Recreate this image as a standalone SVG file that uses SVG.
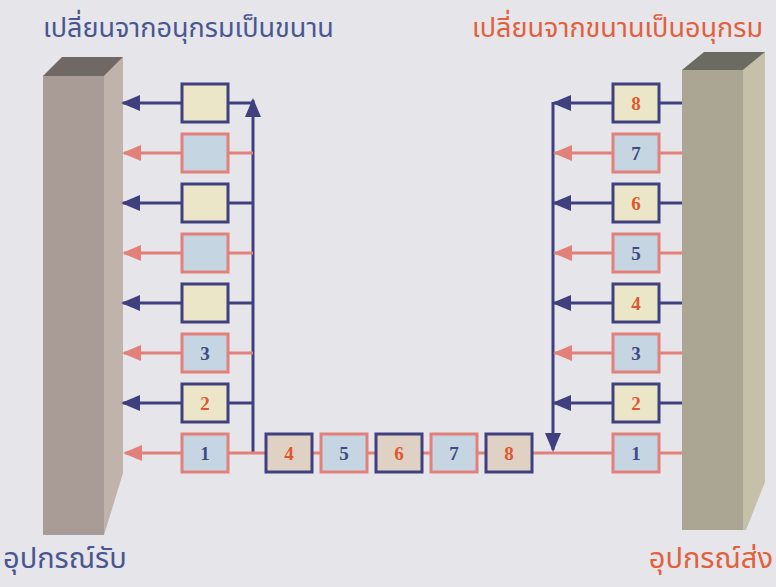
<svg xmlns="http://www.w3.org/2000/svg" width="776" height="587" viewBox="0 0 776 587">
<defs>
<marker id="aN" markerUnits="userSpaceOnUse" markerWidth="20" markerHeight="16" refX="17" refY="8" orient="auto"><path d="M0,0 L19,8 L0,16 z" fill="#40407f"/></marker>
<marker id="aP" markerUnits="userSpaceOnUse" markerWidth="20" markerHeight="16" refX="17" refY="8" orient="auto"><path d="M0,0 L19,8 L0,16 z" fill="#e2807a"/></marker>
</defs>
<style>
.n{stroke:#40407f;stroke-width:3;fill:none}
.p{stroke:#e2807a;stroke-width:3;fill:none}
.bc{fill:#ece6c8;stroke:#40407f;stroke-width:3}
.bt{fill:#dfd1c3;stroke:#40407f;stroke-width:3}
.bb{fill:#c6d5e2;stroke:#e2807a;stroke-width:3}
.to{font-family:"Liberation Serif",serif;font-weight:bold;font-size:19px;fill:#e0562e;text-anchor:middle}
.tn{font-family:"Liberation Serif",serif;font-weight:bold;font-size:19px;fill:#3f4a85;text-anchor:middle}
.th{font-family:"Noto Sans Thai","Noto Serif Thai","Loma","Garuda","Tlwg Typo",sans-serif;font-size:27px}
.tb{font-family:"Noto Sans Thai","Noto Serif Thai","Loma","Garuda","Tlwg Typo",sans-serif;font-size:29px}
</style>
<rect width="776" height="587" fill="#e5e5ea"/>
<g id="wall-left">
<polygon points="43,76 104,76 104,535 43,535" fill="#a99c96"/>
<polygon points="104,76 123,57 123,473 104,535" fill="#c0b3ab"/>
<polygon points="43,76 104,76 123,57 62,57" fill="#706865"/>
</g>
<g id="wall-right">
<polygon points="682,70 743,70 743,530 682,530" fill="#aba594"/>
<polygon points="743,70 765,52 765,482 746,530 743,530" fill="#c4c0aa"/>
<polygon points="682,70 743,70 765,52 704,52" fill="#6c6b62"/>
</g>
<g id="connectors">
<line class="n" x1="253" y1="453" x2="253" y2="100" marker-end="url(#aN)"/>
<line class="n" x1="253" y1="103" x2="228" y2="103"/>
<line class="n" x1="182" y1="103" x2="123" y2="103" marker-end="url(#aN)"/>
<line class="p" x1="253" y1="153" x2="228" y2="153"/>
<line class="p" x1="182" y1="153" x2="124" y2="153" marker-end="url(#aP)"/>
<line class="n" x1="253" y1="203" x2="228" y2="203"/>
<line class="n" x1="182" y1="203" x2="123" y2="203" marker-end="url(#aN)"/>
<line class="p" x1="253" y1="253" x2="228" y2="253"/>
<line class="p" x1="182" y1="253" x2="124" y2="253" marker-end="url(#aP)"/>
<line class="n" x1="253" y1="303" x2="228" y2="303"/>
<line class="n" x1="182" y1="303" x2="123" y2="303" marker-end="url(#aN)"/>
<line class="p" x1="253" y1="353" x2="228" y2="353"/>
<line class="p" x1="182" y1="353" x2="124" y2="353" marker-end="url(#aP)"/>
<line class="n" x1="253" y1="403" x2="228" y2="403"/>
<line class="n" x1="182" y1="403" x2="123" y2="403" marker-end="url(#aN)"/>
<line class="p" x1="266" y1="453" x2="228" y2="453"/>
<line class="p" x1="182" y1="453" x2="125" y2="453" marker-end="url(#aP)"/>
<line class="p" x1="312" y1="453" x2="321" y2="453"/>
<line class="p" x1="367" y1="453" x2="376" y2="453"/>
<line class="p" x1="422" y1="453" x2="431" y2="453"/>
<line class="p" x1="477" y1="453" x2="486" y2="453"/>
<line class="p" x1="532" y1="453" x2="613" y2="453"/>
<line class="n" x1="553" y1="102" x2="553" y2="450" marker-end="url(#aN)"/>
<line class="n" x1="682" y1="103" x2="659" y2="103"/>
<line class="n" x1="613" y1="103" x2="554" y2="103" marker-end="url(#aN)"/>
<line class="p" x1="682" y1="153" x2="659" y2="153"/>
<line class="p" x1="613" y1="153" x2="555" y2="153" marker-end="url(#aP)"/>
<line class="n" x1="682" y1="203" x2="659" y2="203"/>
<line class="n" x1="613" y1="203" x2="554" y2="203" marker-end="url(#aN)"/>
<line class="p" x1="682" y1="253" x2="659" y2="253"/>
<line class="p" x1="613" y1="253" x2="555" y2="253" marker-end="url(#aP)"/>
<line class="n" x1="682" y1="303" x2="659" y2="303"/>
<line class="n" x1="613" y1="303" x2="554" y2="303" marker-end="url(#aN)"/>
<line class="p" x1="682" y1="353" x2="659" y2="353"/>
<line class="p" x1="613" y1="353" x2="555" y2="353" marker-end="url(#aP)"/>
<line class="n" x1="682" y1="403" x2="659" y2="403"/>
<line class="n" x1="613" y1="403" x2="554" y2="403" marker-end="url(#aN)"/>
<line class="p" x1="682" y1="453" x2="659" y2="453"/>
</g>
<g id="L-r1"><rect class="bc" x="182" y="84" width="46" height="38"/></g>
<g id="L-r2"><rect class="bb" x="182" y="134" width="46" height="38"/></g>
<g id="L-r3"><rect class="bc" x="182" y="184" width="46" height="38"/></g>
<g id="L-r4"><rect class="bb" x="182" y="234" width="46" height="38"/></g>
<g id="L-r5"><rect class="bc" x="182" y="284" width="46" height="38"/></g>
<g id="L-3"><rect class="bb" x="182" y="334" width="46" height="38"/><text class="tn" x="205" y="360">3</text></g>
<g id="L-2"><rect class="bc" x="182" y="384" width="46" height="38"/><text class="to" x="205" y="410">2</text></g>
<g id="L-1"><rect class="bb" x="182" y="434" width="46" height="38"/><text class="tn" x="205" y="460">1</text></g>
<g id="B-4"><rect class="bt" x="266" y="434" width="46" height="38"/><text class="to" x="289" y="460">4</text></g>
<g id="B-5"><rect class="bb" x="321" y="434" width="46" height="38"/><text class="tn" x="344" y="460">5</text></g>
<g id="B-6"><rect class="bt" x="376" y="434" width="46" height="38"/><text class="to" x="399" y="460">6</text></g>
<g id="B-7"><rect class="bb" x="431" y="434" width="46" height="38"/><text class="tn" x="454" y="460">7</text></g>
<g id="B-8"><rect class="bt" x="486" y="434" width="46" height="38"/><text class="to" x="509" y="460">8</text></g>
<g id="R-8"><rect class="bc" x="613" y="84" width="46" height="38"/><text class="to" x="636" y="110">8</text></g>
<g id="R-7"><rect class="bb" x="613" y="134" width="46" height="38"/><text class="tn" x="636" y="160">7</text></g>
<g id="R-6"><rect class="bc" x="613" y="184" width="46" height="38"/><text class="to" x="636" y="210">6</text></g>
<g id="R-5"><rect class="bb" x="613" y="234" width="46" height="38"/><text class="tn" x="636" y="260">5</text></g>
<g id="R-4"><rect class="bc" x="613" y="284" width="46" height="38"/><text class="to" x="636" y="310">4</text></g>
<g id="R-3"><rect class="bb" x="613" y="334" width="46" height="38"/><text class="tn" x="636" y="360">3</text></g>
<g id="R-2"><rect class="bc" x="613" y="384" width="46" height="38"/><text class="to" x="636" y="410">2</text></g>
<g id="R-1"><rect class="bb" x="613" y="434" width="46" height="38"/><text class="tn" x="636" y="460">1</text></g>
<g id="labels">
<text class="th" x="43" y="37" fill="#4a5692">เปลี่ยนจากอนุกรมเป็นขนาน</text>
<text class="th" x="763" y="37" fill="#e2603c" text-anchor="end">เปลี่ยนจากขนานเป็นอนุกรม</text>
<text class="tb" x="3" y="568" fill="#4a5692">อุปกรณ์รับ</text>
<text class="tb" x="773" y="568" fill="#e2603c" text-anchor="end">อุปกรณ์ส่ง</text>
</g>
</svg>
